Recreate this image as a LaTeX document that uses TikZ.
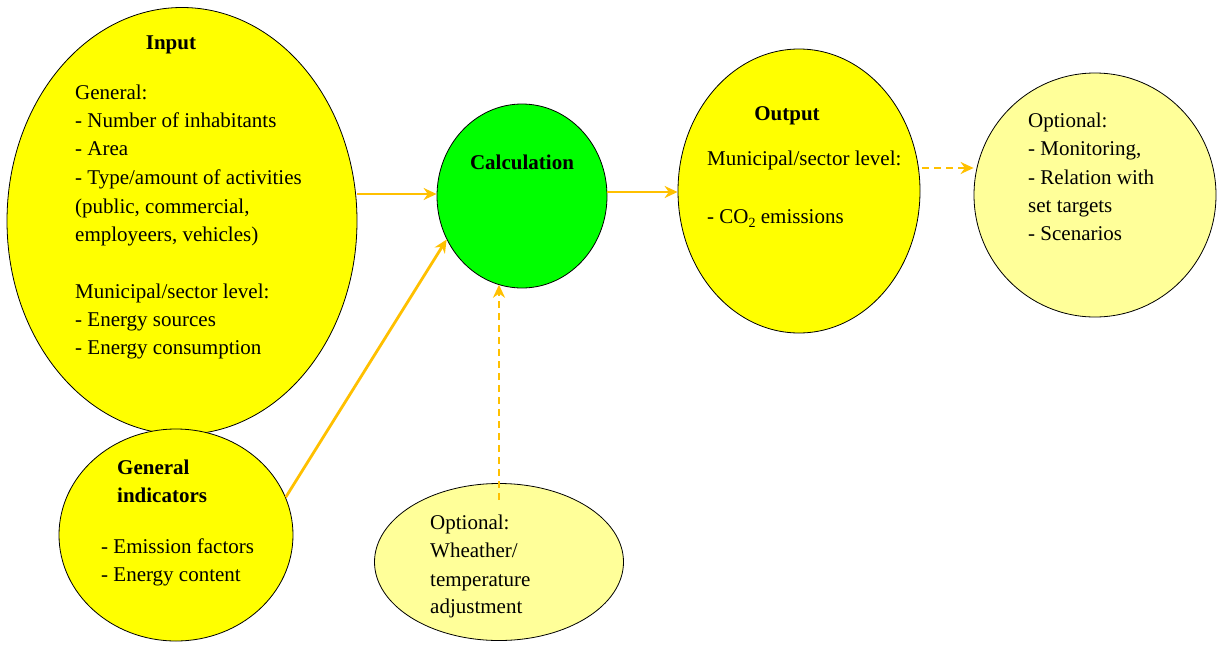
\documentclass[tikz,border=0pt]{standalone}
\usepackage{fontspec}
\setmainfont{Liberation Serif}
\usetikzlibrary{shapes.geometric,arrows.meta}
\definecolor{bub}{HTML}{FFFF00}
\definecolor{pale}{HTML}{FFFF99}
\definecolor{calcgreen}{HTML}{00FF00}
\definecolor{arrcol}{HTML}{FFC000}
\tikzset{
  bubble/.style={ellipse, draw=black, line width=0.8pt, inner sep=0pt},
  txt/.style={anchor=base west, inner sep=0pt, font=\fontsize{21}{25}\selectfont},
  ttl/.style={anchor=base, inner sep=0pt, font=\fontsize{21}{25}\selectfont\bfseries},
  ttlw/.style={anchor=base west, inner sep=0pt, font=\fontsize{21}{25}\selectfont\bfseries},
  arr/.style={draw=arrcol, line width=2.8pt, -{Stealth[length=13pt,width=12pt]}},
  darr/.style={arr, dash pattern=on 7pt off 5pt},
}
\begin{document}
\begin{tikzpicture}[x=1pt,y=-1pt]
\useasboundingbox (0,0) rectangle (1223,645);
% ellipses
\node[bubble, fill=bub, minimum width=350pt, minimum height=427pt] (input) at (182,221) {};
\node[bubble, fill=calcgreen, minimum width=170pt, minimum height=184pt] (calc) at (522,196) {};
\node[bubble, fill=bub, minimum width=242pt, minimum height=284pt] (output) at (799,191) {};
\node[bubble, fill=pale, minimum width=242pt, minimum height=244pt] (opt1) at (1095,195) {};
\node[bubble, fill=bub, minimum width=234pt, minimum height=212pt] (gen) at (176,535) {};
\node[bubble, fill=pale, minimum width=249pt, minimum height=157pt] (opt2) at (499,562) {};
% input text
\node[ttl] (inT) at (171,49) {Input};
\node[txt] (in1) at (75,99) {General:};
\node[txt] (in2) at (75,127) {- Number of inhabitants};
\node[txt] (in3) at (75,155) {- Area};
\node[txt] (in4) at (75,184) {- Type/amount of activities};
\node[txt] (in5) at (75,213) {(public, commercial,};
\node[txt] (in6) at (75,241) {employeers, vehicles)};
\node[txt] (in7) at (75,298) {Municipal/sector level:};
\node[txt] (in8) at (75,326) {- Energy sources};
\node[txt] (in9) at (75,354) {- Energy consumption};
% calculation
\node[ttl] (calcT) at (522,169) {Calculation};
% output
\node[ttl] (outT) at (787,120) {Output};
\node[txt] (out1) at (707,165) {Municipal/sector level:};
\node[txt] (out2) at (707,223) {- CO\raisebox{-0.22em}{\fontsize{14}{14}\selectfont 2} emissions};
% optional right
\node[txt] (o1) at (1028,127) {Optional:};
\node[txt] (o2) at (1028,155) {- Monitoring,};
\node[txt] (o3) at (1028,184) {- Relation with};
\node[txt] (o4) at (1028,212) {set targets};
\node[txt] (o5) at (1028,240) {- Scenarios};
% general indicators
\node[ttlw] (g1) at (117,474) {General};
\node[ttlw] (g2) at (117,502) {indicators};
\node[txt] (g3) at (101,553) {- Emission factors};
\node[txt] (g4) at (101,581) {- Energy content};
% optional bottom
\node[txt] (b1) at (430,529) {Optional:};
\node[txt] (b2) at (430,557) {Wheather/};
\node[txt] (b3) at (430,586) {temperature};
\node[txt] (b4) at (430,613) {adjustment};
% connectors
\draw[arr] (input.east |- 0,194) -- (calc.west |- 0,194);
\draw[arr] (calc.east |- 0,192) -- (output.west |- 0,192);
\draw[darr] ([xshift=2pt,yshift=23pt]output.east) -- ([yshift=27pt]opt1.west);
\draw[arr] (gen.19) -- (calc.210);
\draw[darr] (opt2.north |- 0,500) -- (calc.255 -| opt2.north);
\end{tikzpicture}
\end{document}
